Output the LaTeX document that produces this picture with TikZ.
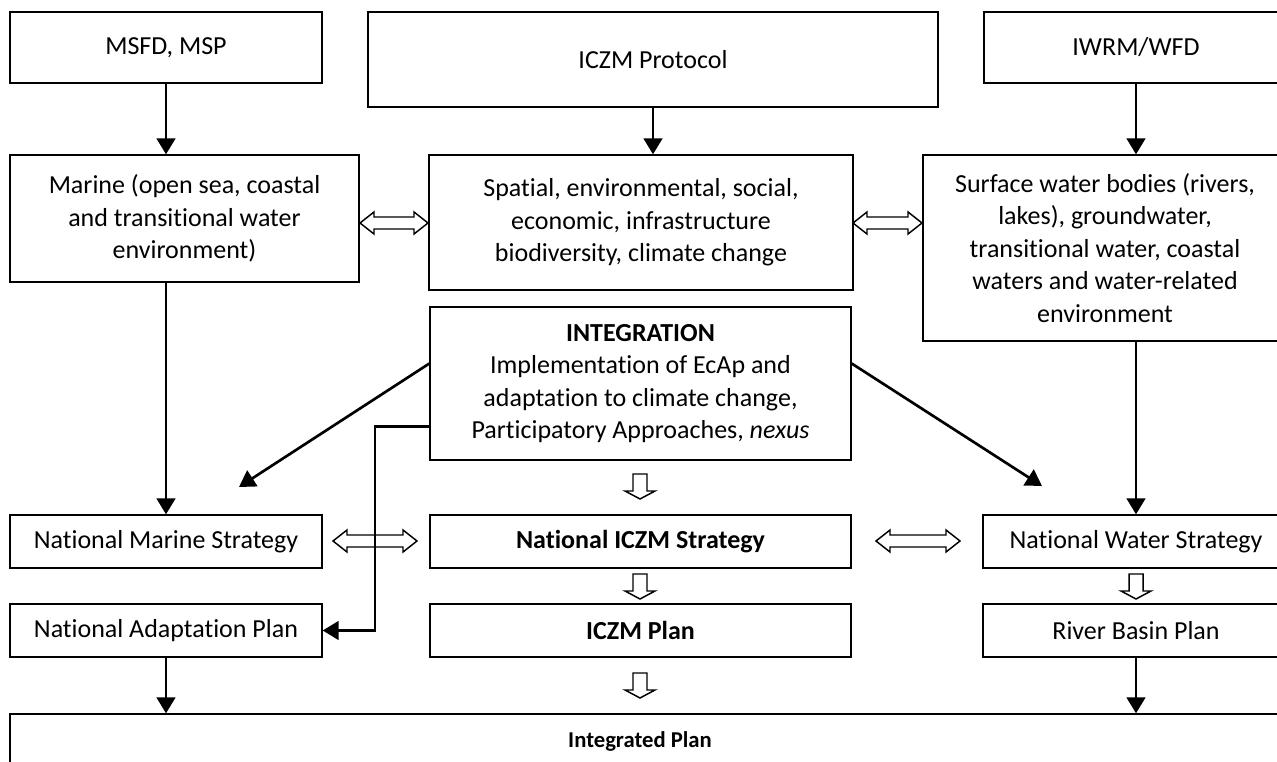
\documentclass[tikz,border=0pt]{standalone}
\usepackage{fontspec}
\setmainfont{Carlito}[Ligatures=NoCommon]
\usetikzlibrary{arrows.meta,calc}

\tikzset{
  % rectangle given by its corners (x1,y1) (x2,y2)
  corners/.style n args={4}{minimum width={(#3-#1)*0.75pt},
    minimum height={(#4-#2)*0.75pt}, at={({(#1+#3)/2},{(#2+#4)/2})}},
  box/.style={draw=black, line width=1pt, inner sep=0pt, align=center,
    font=\fontsize{19.5}{24.4}\selectfont, text=black},
  lbl/.style={inner sep=0pt, font=\fontsize{17}{20}\selectfont\bfseries},
  arr/.style={line width=2pt, draw=black, -{Triangle[length=12pt,width=14pt]}},
  hollow/.style={draw=black, line width=1.1pt, fill=white, line join=miter},
  % hollow double-headed block arrow of total length #1, centred on its position
  pics/dblarrow/.style={code={
    \draw[hollow] (-#1/2,0) -- (-#1/2+14,-11) -- (-#1/2+14,-6) -- (#1/2-14,-6)
      -- (#1/2-14,-11) -- (#1/2,0) -- (#1/2-14,11) -- (#1/2-14,6)
      -- (-#1/2+14,6) -- (-#1/2+14,11) -- cycle;}},
  % hollow downward block arrow, top edge at its position
  pics/downarrow/.style={code={
    \draw[hollow] (-7,0) -- (7,0) -- (7,17) -- (15,17) -- (0,25) -- (-15,17)
      -- (-7,17) -- cycle;}},
}

\begin{document}
\begin{tikzpicture}[x=0.75pt,y=-0.75pt]
\useasboundingbox (0,0) rectangle (1277,762);
\clip (0,0) rectangle (1277,762);

% top row: frameworks
\node[box, corners={10}{12}{322}{83}] (msfd) {MSFD, MSP};
\node[box, corners={368}{12}{938}{107}] (iczmp) {ICZM Protocol};
\node[box, corners={984}{12}{1288}{83}] (iwrm) {IWRM/WFD};

% second row: scopes
\node[box, corners={10}{155}{359}{282}] (marine)
  {Marine (open sea, coastal\\and transitional water\\environment)};
\node[box, corners={429}{155}{853}{290}] (spatial)
  {Spatial, environmental, social,\\economic, infrastructure\\biodiversity, climate change};
\node[box, corners={923}{155}{1287}{341}] (surface)
  {Surface water bodies (rivers,\\lakes), groundwater,\\transitional water, coastal\\waters and water-related\\environment};

% integration
\node[box, corners={430}{307}{851}{460}] (integ)
  {\textbf{INTEGRATION}\\Implementation of EcAp and\\adaptation to climate change,\\Participatory Approaches, \textit{nexus}};

% strategies
\node[box, corners={10}{515}{322}{568}] (nms) {National Marine Strategy};
\node[box, corners={430}{515}{851}{568}] (nicz) {\textbf{National ICZM Strategy}};
\node[box, corners={983}{515}{1289}{568}] (nws) {National Water Strategy};

% plans
\node[box, corners={10}{604}{322}{657}] (nap) {National Adaptation Plan};
\node[box, corners={430}{604}{851}{657}] (iplan) {\textbf{ICZM Plan}};
\node[box, corners={983}{604}{1289}{657}] (rbp) {River Basin Plan};

% integrated plan
\node[box, corners={10}{714}{1292}{790}] (integrated) {};
\node[lbl] (integratedtext) at (640,741) {Integrated Plan};

% vertical flows
\draw[arr] (msfd.south) -- (msfd.south |- marine.north);
\draw[arr] (iczmp.south) -- (iczmp.south |- spatial.north);
\draw[arr] (iwrm.south) -- (iwrm.south |- surface.north);
\draw[arr] (nms.north |- marine.south) -- (nms.north);
\draw[arr] (nws.north |- surface.south) -- (nws.north);
\draw[arr] (nap.south) -- (nap.south |- integrated.north);
\draw[arr] (rbp.south) -- (rbp.south |- integrated.north);

% integration outputs
\coordinate (tipl) at (239,487);
\coordinate (tipr) at (1042,486);
\coordinate (elbow) at (375,0);
\draw[arr] ($(integ.west)+(0,-20)$) -- (tipl);
\draw[arr] ($(integ.east)+(0,-20)$) -- (tipr);

% hollow links between neighbouring boxes
\pic at (394,223) {dblarrow=68};
\pic at (887.5,223) {dblarrow=69};
\pic at (375,541) {dblarrow=84};
\pic at (918,541) {dblarrow=84};
\pic at (640,474) {downarrow};
\pic at (640,574) {downarrow};
\pic at (640,673) {downarrow};
\pic at (1136,574) {downarrow};

% link from integration to the adaptation plan
\coordinate (elbowstart) at ($(integ.west)+(0,43)$);
\draw[arr, line join=miter] (elbowstart) -- (elbowstart -| elbow) -- (elbow |- nap.east) -- (nap.east);

\end{tikzpicture}
\end{document}
